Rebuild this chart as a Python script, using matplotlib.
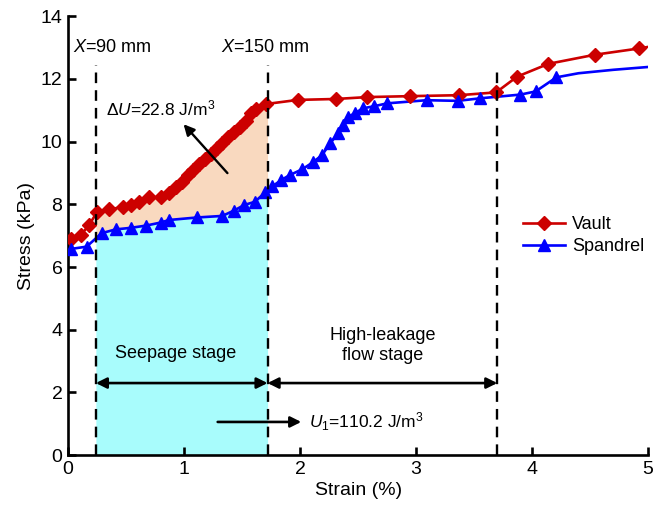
import numpy as np
import matplotlib
matplotlib.use("Agg")
import matplotlib.pyplot as plt

plt.rcParams['font.family'] = ['Liberation Sans', 'DejaVu Sans']
plt.rcParams['mathtext.fontset'] = 'custom'
plt.rcParams['mathtext.rm'] = 'Liberation Sans'
plt.rcParams['mathtext.it'] = 'Liberation Sans:italic'

# vault (marked points) + line tail
vault_x = [0.03, 0.11, 0.18, 0.25, 0.35, 0.47, 0.54, 0.61, 0.70, 0.80, 0.87, 0.93, 0.98,
           1.03, 1.08, 1.13, 1.18, 1.23, 1.28, 1.33, 1.38, 1.43, 1.48, 1.53, 1.58, 1.62,
           1.71, 1.98, 2.31, 2.58, 2.95, 3.37, 3.69, 3.87, 4.14, 4.54, 4.92]
vault_y = [6.88, 7.02, 7.33, 7.75, 7.85, 7.90, 7.97, 8.07, 8.23, 8.22, 8.36, 8.55, 8.72,
           8.92, 9.10, 9.28, 9.45, 9.62, 9.80, 9.97, 10.14, 10.30, 10.47, 10.65, 10.90, 11.05,
           11.20, 11.33, 11.36, 11.42, 11.45, 11.48, 11.57, 12.07, 12.48, 12.77, 12.97]
vault_tail_x = [5.0]
vault_tail_y = [13.02]

spandrel_x = [0.03, 0.16, 0.29, 0.41, 0.54, 0.67, 0.80, 0.87, 1.11, 1.33, 1.43, 1.52, 1.61,
              1.70, 1.76, 1.84, 1.91, 2.02, 2.11, 2.19, 2.26, 2.33, 2.37, 2.41, 2.47, 2.54,
              2.64, 2.75, 3.09, 3.36, 3.55, 3.90, 4.03, 4.21]
spandrel_y = [6.58, 6.65, 7.08, 7.20, 7.25, 7.32, 7.42, 7.50, 7.58, 7.63, 7.80, 7.98, 8.08,
              8.38, 8.57, 8.78, 8.93, 9.12, 9.34, 9.57, 9.95, 10.27, 10.52, 10.78, 10.90, 11.06,
              11.13, 11.22, 11.32, 11.30, 11.38, 11.50, 11.60, 12.05]
spandrel_tail_x = [4.4, 4.7, 5.0]
spandrel_tail_y = [12.18, 12.29, 12.38]

x_90 = 0.24    # X=90 mm
x_150 = 1.72   # X=150 mm
x_end = 3.70   # end of high-leakage stage

red = '#CC0000'
blue = '#0000FF'

fig = plt.figure(figsize=(6.54, 5.22), dpi=100)
ax = fig.add_axes([0.104, 0.128, 0.887, 0.841])

# shaded energy areas
xs = np.linspace(x_90, x_150, 200)
sp = np.interp(xs, spandrel_x, spandrel_y)
va = np.interp(xs, vault_x, vault_y)
ax.fill_between(xs, 0, sp, color='#A8FCFC', lw=0, zorder=1)
ax.fill_between(xs, sp, va, color='#F9D9BF', lw=0, zorder=1)

ax.plot(vault_x + vault_tail_x, vault_y + vault_tail_y, color=red, lw=1.9, zorder=3)
ax.plot(vault_x, vault_y, ls='none', marker='D', ms=7, color=red, zorder=4)
ax.plot(spandrel_x + spandrel_tail_x, spandrel_y + spandrel_tail_y, color=blue, lw=1.9, zorder=3)
ax.plot(spandrel_x, spandrel_y, ls='none', marker='^', ms=8, color=blue, zorder=4)

# legend handles
ax.plot([], [], color=red, lw=1.9, marker='D', ms=7, label='Vault')
ax.plot([], [], color=blue, lw=1.9, marker='^', ms=8, label='Spandrel')
handles, labels = ax.get_legend_handles_labels()
ax.legend(handles, labels, loc='center left', bbox_to_anchor=(0.757, 0.50), frameon=False,
          fontsize=13, handlelength=2.3, handletextpad=0.4, labelspacing=0.3)

# dashed lines
for xv, top in [(x_90, 12.45), (x_150, 12.45), (x_end, 12.3)]:
    ax.plot([xv, xv], [0, top], color='black', ls=(0, (4.5, 3)), lw=1.7, zorder=5)

ax.text(0.04, 13.0, r'$X$=90 mm', fontsize=13, va='center', ha='left')
ax.text(1.32, 13.0, r'$X$=150 mm', fontsize=13, va='center', ha='left')

ax.text(0.33, 11.05, r'Δ$U$=22.8 J/m$^3$', fontsize=12.5, va='center', ha='left', zorder=6)
ax.annotate('', xy=(0.98, 10.62), xytext=(1.39, 8.93),
            arrowprops=dict(arrowstyle='-|>', color='black', lw=1.7, mutation_scale=16), zorder=6)

ax.annotate('', xy=(x_90, 2.3), xytext=(x_150, 2.3),
            arrowprops=dict(arrowstyle='<|-|>', color='black', lw=1.9, mutation_scale=16,
                            shrinkA=0, shrinkB=0), zorder=6)
ax.annotate('', xy=(x_150, 2.3), xytext=(x_end, 2.3),
            arrowprops=dict(arrowstyle='<|-|>', color='black', lw=1.9, mutation_scale=16,
                            shrinkA=0, shrinkB=0), zorder=6)

ax.text(0.93, 3.25, 'Seepage stage', fontsize=13, ha='center', va='center', zorder=6)
ax.text(2.71, 3.5, 'High-leakage\nflow stage', fontsize=13, ha='center', va='center',
        linespacing=1.2, zorder=6)

ax.annotate('', xy=(2.01, 1.06), xytext=(1.29, 1.06),
            arrowprops=dict(arrowstyle='-|>', color='black', lw=1.9, mutation_scale=16,
                            shrinkA=0, shrinkB=0), zorder=6)
ax.text(2.08, 1.06, r'$U_1$=110.2 J/m$^3$', fontsize=12.5, ha='left', va='center', zorder=6)

ax.set_xlim(0, 5)
ax.set_ylim(0, 14)
ax.set_xticks([0, 1, 2, 3, 4, 5])
ax.set_yticks(range(0, 15, 2))
for s in ['top', 'right']:
    ax.spines[s].set_visible(False)
for s in ['left', 'bottom']:
    ax.spines[s].set_linewidth(1.9)
ax.tick_params(direction='in', length=6, width=1.9, labelsize=14, pad=4)
ax.set_xlabel('Strain (%)', fontsize=14, labelpad=3)
ax.set_ylabel('Stress (kPa)', fontsize=14, labelpad=4)

plt.savefig('out.png', dpi=100)
